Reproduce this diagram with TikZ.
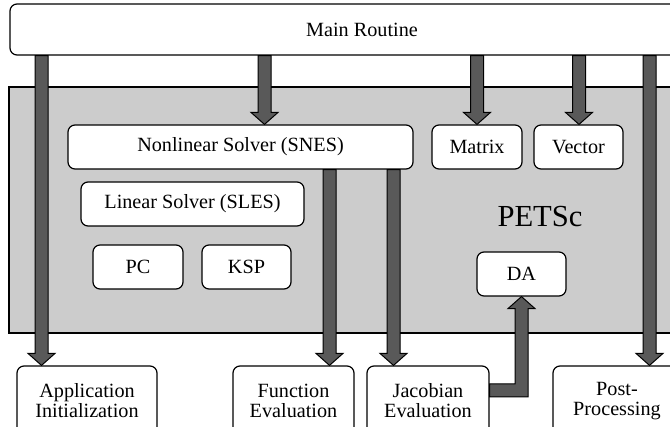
\documentclass[tikz,border=0pt]{standalone}
\usepackage{fontspec}
\setmainfont{Liberation Serif}
\usetikzlibrary{calc}
\definecolor{bggray}{HTML}{CCCCCC}
\definecolor{arrowgray}{HTML}{595959}
\tikzset{
  box/.style={draw=black, fill=white, line width=0.6pt, rounded corners=3.5pt,
    inner sep=0pt, align=center, font=\fontsize{10.1}{10}\selectfont},
  graybg/.style={draw=black, fill=bggray, line width=0.6pt, inner sep=0pt},
  fat/.style={draw=black, fill=arrowgray, line width=0.5pt, line join=miter},
}
\newcommand\fatdown[3]{%
  \draw[fat] let \p1=(#2.south), \p2=(#3.north) in
    ({(#1-6.5)*0.5pt},\y1) -- ({(#1-6.5)*0.5pt},\y2+6pt) --
    ({(#1-13.5)*0.5pt},\y2+6pt) -- ({#1*0.5pt},\y2) --
    ({(#1+13.5)*0.5pt},\y2+6pt) -- ({(#1+6.5)*0.5pt},\y2+6pt) --
    ({(#1+6.5)*0.5pt},\y1) -- cycle;}
\begin{document}
\begin{tikzpicture}[x=0.5pt,y=-0.5pt]
\path[use as bounding box, clip] (0,0) rectangle (670,427);
\fill[white] (0,0) rectangle (670,427);
% PETSc background
\node[graybg, minimum width=345.5pt, minimum height=123pt] (petsc) at (354.5,210) {};
\node[inner sep=0pt, font=\fontsize{15.3}{16}\selectfont] (petsclabel) at (540,216.5) {PETSc};
% boxes
\node[box, minimum width=352pt, minimum height=25.5pt] (main) at (362,29.5) {Main Routine};
\node[box, minimum width=172.5pt, minimum height=22pt] (snes) at (240.5,147) {Nonlinear Solver (SNES)};
\node[box, minimum width=111.5pt, minimum height=22pt] (sles) at (192.5,204) {Linear Solver (SLES)};
\node[box, minimum width=45pt, minimum height=22pt] (pc) at (138,267) {PC};
\node[box, minimum width=44.5pt, minimum height=22pt] (ksp) at (246.5,267) {KSP};
\node[box, minimum width=45pt, minimum height=22pt] (matrix) at (477,147) {Matrix};
\node[box, minimum width=44.5pt, minimum height=22pt] (vector) at (578.5,147) {Vector};
\node[box, minimum width=44.5pt, minimum height=22pt] (da) at (521.5,274) {DA};
\node[box, minimum width=70pt, minimum height=35pt] (app) at (87,401) {Application\\Initialization};
\node[box, minimum width=60.5pt, minimum height=35pt] (func) at (293.5,401) {Function\\Evaluation};
\node[box, minimum width=61pt, minimum height=35pt] (jac) at (428,401) {Jacobian\\Evaluation};
\node[box, minimum width=64pt, minimum height=35pt] (post) at (617,401) {Post-\\Processing};
% arrows
\fatdown{41.5}{main}{app}
\fatdown{264.5}{main}{snes}
\fatdown{477}{main}{matrix}
\fatdown{579}{main}{vector}
\fatdown{649.5}{main}{post}
\fatdown{329.5}{snes}{func}
\fatdown{393.5}{snes}{jac}
\draw[fat] let \p1=(jac.east), \p2=(da.south) in
  (\x1,-192pt) -- (257.5pt,-192pt) -- (257.5pt,\y2-6pt) -- (254pt,\y2-6pt) --
  (260.75pt,\y2) -- (267.5pt,\y2-6pt) -- (264pt,\y2-6pt) -- (264pt,-198.5pt) --
  (\x1,-198.5pt) -- cycle;
\end{tikzpicture}
\end{document}
